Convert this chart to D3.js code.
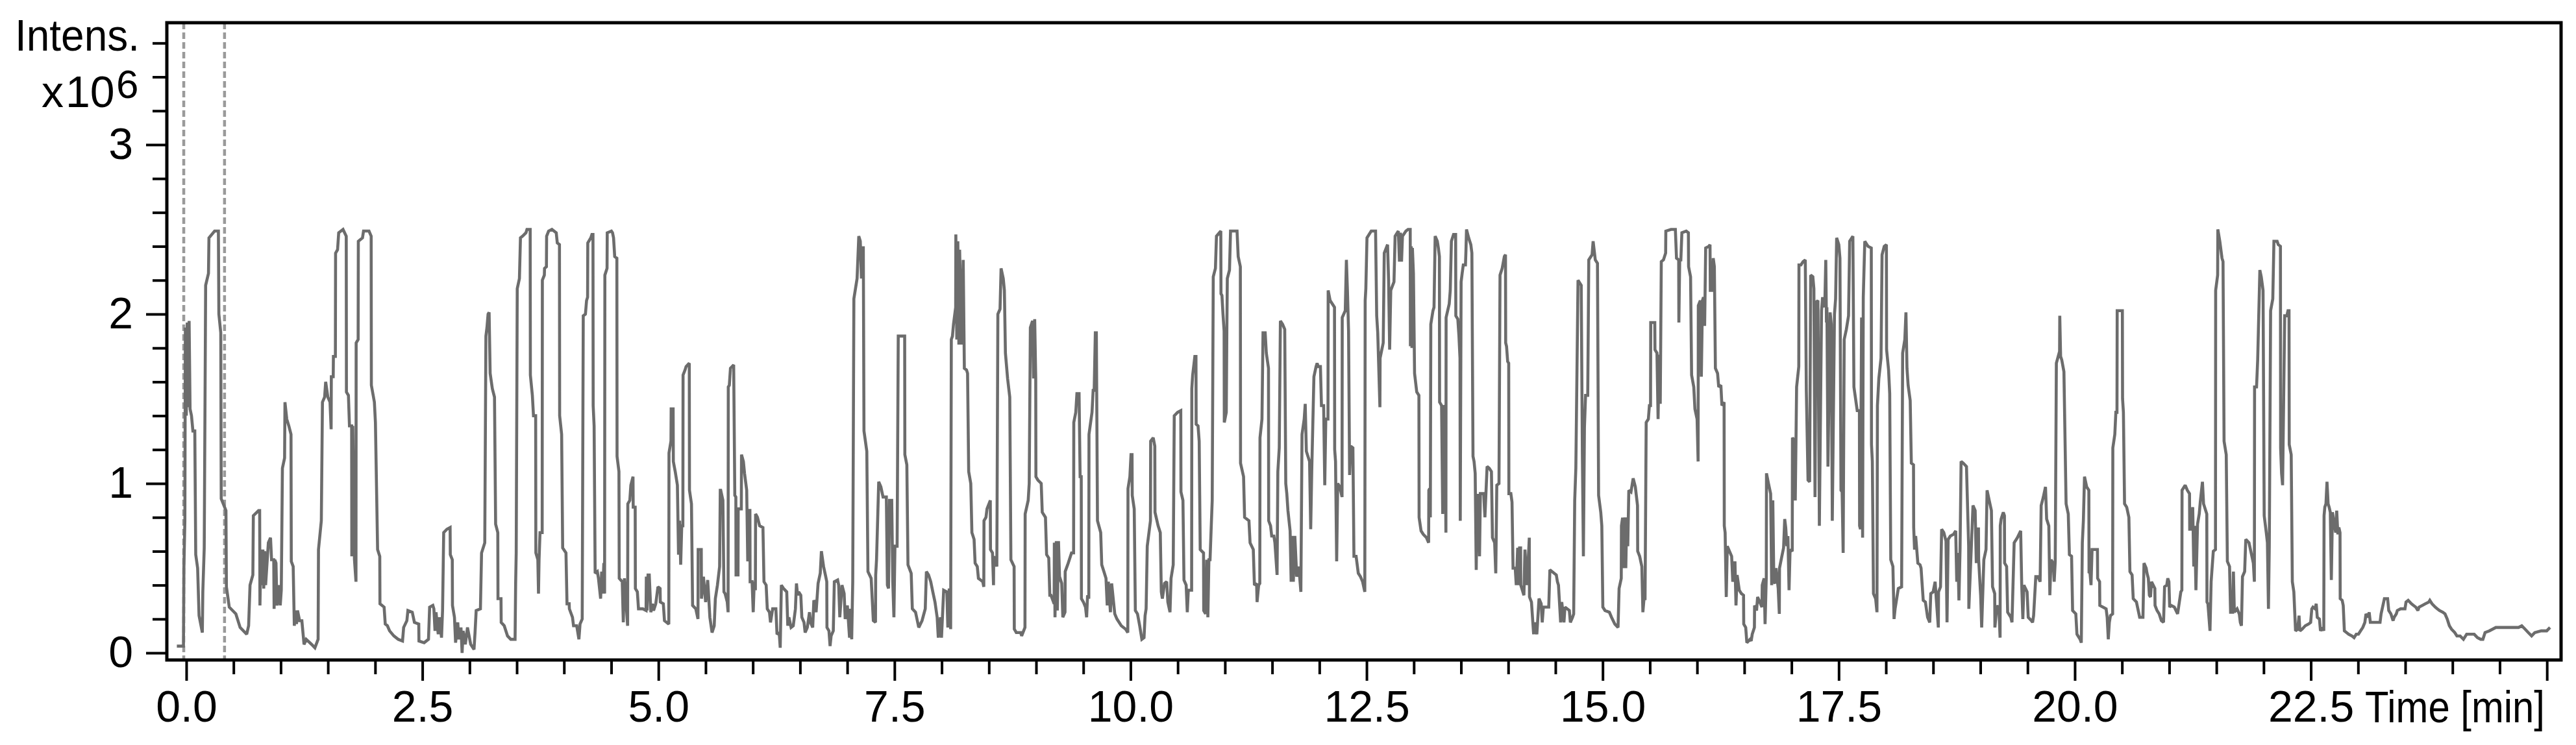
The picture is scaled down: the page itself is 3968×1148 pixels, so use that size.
<!DOCTYPE html>
<html><head><meta charset="utf-8">
<script src="https://cdn.jsdelivr.net/npm/d3@7"></script>
<style>
html,body{margin:0;padding:0;background:#fff;}
svg{display:block;}
text{font-family:"Liberation Sans",Arial,Helvetica,sans-serif;fill:#000;}
</style>
</head><body>
<svg id="chart" width="3968" height="1148"></svg>
<script>
// ---------- DATA ----------
// x axis (time, min)
const xMajorTicks = [0, 2.5, 5, 7.5, 10, 12.5, 15, 17.5, 20, 22.5, 25];
const xTickLabels = ["0.0","2.5","5.0","7.5","10.0","12.5","15.0","17.5","20.0","22.5",""];
const xAxisTitle = "Time [min]";
// y axis (intensity x10^6)
const yMajorTicks = [0, 1, 2, 3];
const yTickLabels = ["0","1","2","3"];
const yAxisTitle = "Intens.";
const yAxisUnitX = "x";
const yAxisUnitBase = "10";
const yAxisExponent = "6";
// dashed marker lines (min)
const markerTimes = [-0.027, 0.405];
// chromatogram trace: [time (min), intensity (x10^6)]
const chromatogram = [
[-0.10,0.04],[-0.03,0.04],[-0.025,0.51],[-0.015,0.78],[-0.01,1.92],[0.0,1.40],[0.01,1.95],[0.02,1.45],[0.03,1.96],[0.04,1.44],[0.055,1.40],[0.07,1.31],[0.09,1.31],[0.10,0.58],[0.12,0.50],[0.135,0.22],[0.17,0.12],[0.175,0.36],[0.19,0.62],[0.205,2.17],[0.235,2.24],[0.24,2.45],[0.30,2.49],[0.34,2.49],[0.345,2.0],[0.365,1.89],[0.37,0.91],[0.42,0.84],[0.425,0.39],[0.455,0.27],[0.525,0.23],[0.57,0.15],[0.64,0.11],[0.66,0.16],[0.675,0.40],[0.705,0.46],[0.71,0.81],[0.765,0.84],
[0.777,0.84],[0.78,0.28],[0.79,0.61],[0.80,0.40],[0.811,0.61],[0.82,0.38],[0.83,0.60],[0.84,0.40],[0.869,0.65],[0.892,0.68],[0.903,0.55],[0.926,0.55],[0.93,0.26],[0.937,0.55],[0.95,0.53],[0.96,0.28],[0.983,0.40],[0.995,0.28],[1.006,0.37],[1.018,1.09],[1.041,1.15],[1.045,1.48],[1.064,1.38],[1.086,1.34],[1.109,1.29],[1.112,0.54],[1.132,0.51],[1.144,0.16],[1.155,0.25],[1.167,0.17],[1.178,0.25],[1.20,0.19],[1.224,0.19],[1.247,0.05],[1.270,0.08],[1.327,0.05],[1.362,0.03],[1.396,0.08],[1.400,0.61],[1.430,0.78],[1.442,1.48],[1.465,1.51],[1.476,1.60],[1.499,1.51],[1.522,1.48],[1.534,1.32],[1.536,1.63],[1.556,1.63],[1.558,1.75],[1.579,1.75],[1.581,2.36],[1.602,2.38],[1.614,2.48],[1.660,2.50],[1.694,2.46],[1.696,1.54],[1.717,1.52],[1.728,1.34],[1.751,1.34],[1.753,0.57],[1.763,1.34],[1.781,0.55],[1.797,0.42],[1.799,1.83],[1.820,1.85],[1.822,2.43],[1.866,2.45],[1.877,2.49],[1.935,2.49],[1.958,2.46],[1.960,1.58],[1.992,1.48],[2.003,1.36],[2.026,0.61],[2.049,0.57],[2.051,0.29],[2.095,0.27],[2.107,0.17],[2.130,0.16],[2.153,0.13],[2.198,0.10],[2.244,0.08],[2.290,0.07],[2.302,0.15],[2.336,0.19],[2.347,0.25],[2.393,0.24],[2.416,0.18],[2.462,0.17],[2.464,0.07],[2.519,0.06],[2.565,0.08],[2.577,0.27],[2.611,0.28],[2.622,0.26],[2.634,0.13],[2.645,0.24],[2.668,0.11],[2.680,0.21],[2.703,0.09],[2.714,0.25],[2.726,0.71],[2.760,0.73],[2.794,0.74],[2.796,0.58],[2.817,0.55],[2.819,0.28],[2.840,0.21],[2.852,0.06],[2.875,0.18],[2.886,0.08],[2.909,0.15],[2.921,0.0],[2.932,0.13],[2.955,0.05],[2.978,0.15],[3.012,0.05],[3.047,0.02],[3.058,0.12],[3.070,0.25],[3.115,0.26],[3.127,0.59],[3.161,0.65],[3.173,1.87],[3.184,1.92],[3.196,2.00],[3.207,2.01],
[3.218,1.65],[3.241,1.56],[3.264,1.51],[3.276,0.76],[3.299,0.71],[3.301,0.32],[3.333,0.32],[3.335,0.18],[3.367,0.16],[3.402,0.10],[3.436,0.08],[3.482,0.08],[3.488,0.41],[3.494,0.59],[3.505,2.15],[3.528,2.21],[3.539,2.45],[3.562,2.46],[3.597,2.48],[3.608,2.50],[3.642,2.50],[3.644,1.64],[3.665,1.52],[3.677,1.40],[3.700,1.40],[3.702,0.59],[3.723,0.55],[3.730,0.35],[3.736,0.55],[3.746,0.71],[3.769,0.71],[3.771,2.20],[3.792,2.23],[3.794,2.27],[3.814,2.28],[3.816,2.46],[3.837,2.49],[3.872,2.50],[3.918,2.48],[3.929,2.42],[3.952,2.41],[3.954,1.40],[3.975,1.29],[3.986,0.62],[4.021,0.59],[4.032,0.29],[4.055,0.29],[4.057,0.26],[4.090,0.21],[4.101,0.16],[4.135,0.16],[4.158,0.08],[4.170,0.17],[4.193,0.20],[4.204,1.99],[4.227,2.00],[4.239,2.08],[4.250,2.10],[4.252,2.42],[4.284,2.45],[4.296,2.47],[4.307,2.47],[4.309,1.46],[4.319,1.34],[4.330,0.47],[4.353,0.48],[4.365,0.44],[4.388,0.32],[4.399,0.48],[4.41,0.35],[4.422,0.53],[4.43,0.35],[4.433,2.23],[4.456,2.27],[4.458,2.48],[4.502,2.49],[4.514,2.48],[4.525,2.45],[4.537,2.34],[4.560,2.33],[4.562,1.16],[4.582,1.07],[4.585,0.44],[4.617,0.42],[4.628,0.18],[4.640,0.44],[4.674,0.16],[4.676,0.88],[4.697,0.90],[4.708,0.99],[4.731,1.04],[4.733,0.86],[4.754,0.86],[4.756,0.38],[4.777,0.36],[4.789,0.26],[4.812,0.26],[4.835,0.26],[4.869,0.25],[4.872,0.45],[4.88,0.25],[4.89,0.46],[4.903,0.46],[4.92,0.24],[4.938,0.29],[4.949,0.25],[4.972,0.29],[4.995,0.39],[5.018,0.38],[5.020,0.30],[5.052,0.29],[5.064,0.19],[5.110,0.17],[5.112,1.18],[5.133,1.25],[5.135,1.44],[5.156,1.44],[5.158,1.13],[5.178,1.07],[5.201,0.99],[5.213,0.58],[5.224,0.78],[5.236,0.52],[5.247,0.75],[5.259,0.75],[5.261,1.64],[5.282,1.67],[5.293,1.69],[5.327,1.71],[5.329,0.96],[5.350,0.88],[5.362,0.28],[5.396,0.26],[5.419,0.20],[5.421,0.61],[5.454,0.61],[5.456,0.32],[5.477,0.45],[5.500,0.30],[5.522,0.43],[5.545,0.21],[5.568,0.12],[5.591,0.16],[5.603,0.32],[5.625,0.40],[5.648,0.51],[5.655,0.96],
[5.660,0.96],[5.683,0.90],[5.694,0.36],[5.706,0.35],[5.729,0.30],[5.738,0.24],[5.740,1.57],[5.751,1.58],[5.763,1.68],[5.797,1.70],[5.809,0.93],[5.820,0.92],[5.822,0.46],[5.843,0.46],[5.845,0.85],[5.878,0.85],[5.880,1.17],[5.900,1.13],[5.912,1.06],[5.935,0.96],[5.946,0.54],[5.958,0.73],[5.969,0.85],[5.971,0.42],[5.992,0.42],[6.004,0.24],[6.015,0.42],[6.027,0.37],[6.029,0.82],[6.049,0.80],[6.072,0.75],[6.107,0.74],[6.118,0.42],[6.141,0.40],[6.153,0.26],[6.176,0.24],[6.187,0.18],[6.210,0.26],[6.244,0.26],[6.256,0.11],[6.279,0.12],[6.290,0.03],[6.302,0.40],[6.325,0.38],[6.359,0.36],[6.370,0.16],[6.382,0.21],[6.405,0.15],[6.428,0.16],[6.451,0.26],[6.462,0.41],[6.474,0.34],[6.485,0.36],[6.508,0.34],[6.519,0.21],[6.542,0.18],[6.554,0.12],[6.577,0.15],[6.600,0.24],[6.611,0.18],[6.634,0.15],[6.646,0.31],[6.657,0.30],[6.67,0.24],[6.691,0.41],[6.714,0.47],[6.726,0.60],[6.749,0.51],[6.772,0.45],[6.783,0.42],[6.785,0.15],[6.806,0.13],[6.818,0.04],[6.829,0.10],[6.852,0.13],[6.863,0.42],[6.898,0.43],[6.909,0.40],[6.921,0.21],[6.944,0.40],[6.967,0.35],[6.978,0.20],[7.001,0.28],[7.024,0.09],[7.035,0.26],[7.047,0.08],[7.058,0.42],[7.070,2.09],[7.104,2.21],[7.122,2.46],[7.138,2.43],[7.150,2.21],[7.17,2.40],[7.177,1.31],[7.207,1.19],[7.219,0.48],[7.253,0.44],[7.276,0.19],[7.299,0.18],[7.301,0.46],[7.310,0.55],[7.333,1.01],[7.356,0.98],[7.379,0.92],[7.414,0.92],[7.425,0.40],[7.437,0.38],[7.448,0.90],[7.471,0.90],[7.482,0.42],[7.494,0.21],[7.505,0.63],[7.528,0.63],[7.540,1.87],[7.608,1.87],[7.610,1.17],[7.631,1.11],[7.643,0.52],[7.677,0.47],[7.689,0.26],[7.723,0.24],[7.757,0.15],[7.792,0.19],[7.826,0.26],[7.838,0.48],[7.861,0.46],[7.884,0.42],[7.906,0.36],[7.929,0.30],[7.952,0.21],[7.964,0.09],[7.987,0.21],[7.998,0.09],[8.021,0.37],[8.055,0.36],
[8.065,0.15],[8.08,0.38],[8.095,0.14],[8.102,1.85],[8.114,1.87],[8.125,1.94],[8.148,2.04],[8.150,2.47],[8.16,1.85],[8.171,2.43],[8.182,1.82],[8.19,2.38],[8.21,1.82],[8.228,2.32],[8.240,1.68],[8.263,1.67],[8.274,1.65],[8.286,1.07],[8.308,1.00],[8.320,0.71],[8.343,0.67],[8.354,0.53],[8.377,0.51],[8.389,0.44],[8.412,0.43],[8.435,0.42],[8.446,0.39],[8.448,0.78],[8.469,0.80],[8.480,0.85],[8.515,0.90],[8.517,0.61],[8.538,0.59],[8.549,0.40],[8.551,0.57],[8.584,0.51],[8.595,2.00],[8.618,2.03],[8.629,2.27],[8.652,2.21],[8.664,2.14],[8.675,1.77],[8.698,1.62],[8.721,1.51],[8.733,0.55],[8.767,0.51],[8.769,0.14],[8.790,0.12],[8.836,0.12],[8.847,0.10],[8.882,0.15],[8.884,0.82],[8.916,0.90],[8.927,1.00],[8.939,1.92],[8.962,1.96],[8.973,1.62],[8.985,1.97],[8.996,1.62],[8.998,1.04],[9.019,1.02],[9.054,1.00],[9.065,0.83],[9.099,0.80],[9.111,0.58],[9.134,0.56],[9.145,0.34],[9.157,0.34],[9.191,0.29],[9.193,0.65],[9.20,0.21],[9.214,0.66],[9.225,0.25],[9.237,0.66],[9.248,0.45],[9.271,0.41],[9.283,0.21],[9.306,0.24],[9.308,0.48],[9.340,0.53],[9.375,0.59],[9.397,0.59],[9.399,1.36],[9.420,1.42],[9.432,1.53],[9.455,1.53],[9.466,1.04],[9.478,1.04],[9.480,0.32],[9.501,0.30],[9.523,0.27],[9.535,0.21],[9.545,0.34],[9.558,0.32],[9.560,1.29],[9.592,1.42],[9.604,1.55],[9.615,1.55],[9.627,1.89],[9.638,1.89],[9.650,0.78],[9.684,0.71],[9.695,0.52],[9.718,0.48],[9.740,0.44],[9.753,0.28],[9.765,0.42],[9.787,0.24],[9.80,0.41],[9.833,0.23],[9.856,0.20],[9.902,0.16],[9.948,0.14],[9.971,0.12],[9.973,0.97],[9.993,1.04],[10.005,1.17],[10.016,1.17],[10.018,0.93],[10.039,0.85],[10.051,0.25],[10.074,0.23],[10.097,0.16],[10.120,0.08],[10.143,0.09],[10.154,0.22],[10.165,0.26],[10.177,0.63],[10.211,0.78],[10.213,1.25],[10.240,1.27],[10.257,1.22],[10.259,0.83],[10.292,0.75],[10.315,0.71],[10.326,0.36],[10.337,0.32],[10.360,0.41],[10.383,0.42],[10.395,0.30],[10.418,0.24],
[10.429,0.44],[10.452,0.52],[10.463,1.40],[10.498,1.42],[10.532,1.43],[10.534,0.95],[10.555,0.90],[10.566,0.43],[10.589,0.40],[10.601,0.24],[10.612,0.37],[10.647,0.37],[10.649,1.56],[10.658,1.64],[10.681,1.75],[10.693,1.75],[10.695,1.35],[10.715,1.34],[10.727,1.25],[10.738,0.61],[10.773,0.59],[10.775,0.25],[10.795,0.23],[10.807,0.55],[10.819,0.21],[10.830,0.55],[10.842,0.55],[10.853,0.72],[10.865,0.90],[10.876,2.22],[10.899,2.27],[10.910,2.46],[10.956,2.49],[10.958,2.12],[10.968,2.11],[10.979,2.00],[10.991,1.90],[10.993,1.36],[11.014,1.42],[11.020,1.90],[11.025,2.21],[11.048,2.26],[11.059,2.49],[11.128,2.49],[11.140,2.34],[11.163,2.28],[11.165,1.12],[11.197,1.04],[11.208,0.80],[11.254,0.78],[11.266,0.65],[11.300,0.61],[11.312,0.40],[11.335,0.41],[11.340,0.30],[11.357,0.40],[11.369,0.41],[11.371,1.27],[11.392,1.38],[11.403,1.89],[11.426,1.89],[11.438,1.77],[11.461,1.68],[11.463,0.78],[11.483,0.75],[11.495,0.69],[11.518,0.69],[11.529,0.65],[11.552,0.46],[11.560,1.07],[11.575,1.21],[11.587,1.96],[11.610,1.94],[11.633,1.91],[11.644,1.00],[11.655,0.94],[11.667,0.84],[11.690,0.72],[11.701,0.42],[11.712,0.69],[11.724,0.42],[11.740,0.69],[11.760,0.45],[11.782,0.51],[11.804,0.36],[11.816,1.29],[11.839,1.38],[11.850,1.47],[11.862,1.19],[11.896,1.13],[11.908,0.73],[11.919,1.07],[11.942,1.63],[11.965,1.69],[11.976,1.71],[11.988,1.69],[12.011,1.69],[12.022,1.46],[12.045,1.46],[12.057,0.99],[12.068,1.38],[12.091,1.38],[12.093,2.14],[12.114,2.08],[12.160,2.04],[12.162,1.20],[12.171,1.13],[12.183,0.54],[12.194,1.00],[12.217,0.98],[12.240,0.92],[12.242,1.98],[12.274,2.02],[12.286,2.32],[12.297,2.14],[12.309,1.90],[12.320,1.05],[12.332,1.22],[12.355,1.21],[12.366,0.57],[12.389,0.57],[12.412,0.47],[12.435,0.45],[12.458,0.42],[12.481,0.36],[12.485,2.08],[12.492,2.15],[12.504,2.45],[12.549,2.49],[12.595,2.49],[12.607,1.99],[12.618,1.89],[12.641,1.45],[12.643,1.74],[12.676,1.83],[12.687,2.36],[12.722,2.41],[12.733,2.20],[12.744,1.79],[12.756,2.14],[12.790,2.19],[12.802,2.46],[12.836,2.49],[12.848,2.31],
[12.859,2.48],[12.870,2.31],[12.880,2.46],[12.893,2.47],[12.916,2.49],[12.939,2.50],[12.962,2.50],[12.964,1.81],[12.973,2.40],[12.980,1.80],[12.985,2.39],[12.996,2.24],[13.008,1.65],[13.031,1.54],[13.054,1.52],[13.056,0.80],[13.077,0.72],[13.100,0.70],[13.134,0.68],[13.157,0.65],[13.159,0.96],[13.168,0.97],[13.175,0.80],[13.180,1.94],[13.203,2.02],[13.214,2.04],[13.226,2.46],[13.249,2.43],[13.260,2.39],[13.271,2.34],[13.273,1.48],[13.294,1.46],[13.306,0.82],[13.310,1.46],[13.329,1.44],[13.340,0.71],[13.342,1.98],[13.375,2.06],[13.386,2.14],[13.398,2.43],[13.421,2.47],[13.443,2.47],[13.445,1.99],[13.466,1.97],[13.478,1.87],[13.489,1.74],[13.492,0.78],[13.501,2.19],[13.512,2.24],[13.524,2.29],[13.547,2.29],[13.552,2.37],[13.558,2.50],[13.581,2.45],[13.604,2.41],[13.615,2.36],[13.627,1.16],[13.638,1.13],[13.650,1.06],[13.661,0.49],[13.670,0.93],[13.684,0.93],[13.696,0.57],[13.705,0.94],[13.719,0.94],[13.740,0.94],[13.753,0.80],[13.776,1.10],[13.799,1.09],[13.822,1.07],[13.833,0.68],[13.856,0.65],[13.868,0.47],[13.879,0.99],[13.902,1.00],[13.913,2.23],[13.936,2.27],[13.959,2.34],[13.971,2.35],[13.973,1.83],[13.982,1.81],[13.994,1.72],[14.005,1.71],[14.007,0.94],[14.028,0.94],[14.040,0.89],[14.051,0.50],[14.074,0.50],[14.085,0.40],[14.10,0.62],[14.108,0.40],[14.120,0.62],[14.131,0.62],[14.133,0.40],[14.166,0.34],[14.177,0.61],[14.200,0.40],[14.223,0.68],[14.225,0.33],[14.246,0.30],[14.269,0.11],[14.280,0.18],[14.303,0.11],[14.326,0.32],[14.349,0.29],[14.360,0.18],[14.372,0.27],[14.429,0.27],[14.441,0.49],[14.464,0.48],[14.509,0.46],[14.521,0.42],[14.532,0.40],[14.555,0.18],[14.567,0.30],[14.590,0.18],[14.601,0.27],[14.647,0.25],[14.658,0.18],[14.681,0.21],[14.693,0.23],[14.704,0.90],[14.716,1.09],[14.739,2.20],[14.773,2.17],[14.785,1.18],[14.796,0.57],[14.807,1.33],[14.819,1.52],[14.842,1.52],[14.853,2.32],[14.888,2.35],[14.899,2.43],[14.922,2.32],[14.945,2.30],[14.957,0.93],[14.980,0.83],[14.991,0.75],[15.002,0.27],[15.025,0.25],[15.071,0.24],[15.094,0.21],[15.129,0.17],[15.163,0.15],[15.174,0.38],[15.197,0.44],[15.199,0.75],[15.209,0.79],[15.220,0.79],
[15.225,0.50],[15.235,0.80],[15.245,0.50],[15.255,0.80],[15.266,0.63],[15.277,0.96],[15.300,0.95],[15.323,1.03],[15.346,0.98],[15.369,0.87],[15.371,0.60],[15.392,0.57],[15.415,0.51],[15.426,0.24],[15.438,0.32],[15.449,0.32],[15.461,1.36],[15.484,1.38],[15.495,1.46],[15.507,1.46],[15.509,1.95],[15.552,1.95],[15.554,1.79],[15.575,1.77],[15.587,1.38],[15.598,1.76],[15.610,1.47],[15.621,2.31],[15.644,2.32],[15.667,2.36],[15.669,2.49],[15.724,2.50],[15.770,2.50],[15.782,2.33],[15.805,2.32],[15.807,1.95],[15.816,2.32],[15.828,2.32],[15.839,2.48],[15.885,2.49],[15.908,2.48],[15.910,2.28],[15.931,2.22],[15.942,1.64],[15.965,1.57],[15.977,1.44],[16.000,1.38],[16.011,1.13],[16.013,2.05],[16.034,2.08],[16.045,1.63],[16.057,2.08],[16.068,2.10],[16.080,1.93],[16.091,2.39],[16.126,2.40],[16.137,2.41],[16.140,2.14],[16.160,2.14],[16.171,2.33],[16.183,2.28],[16.194,1.68],[16.217,1.65],[16.229,1.57],[16.252,1.58],[16.263,1.46],[16.286,1.48],[16.288,0.75],[16.297,0.71],[16.309,0.33],[16.320,0.63],[16.343,0.60],[16.366,0.57],[16.378,0.42],[16.401,0.54],[16.412,0.28],[16.424,0.46],[16.447,0.37],[16.469,0.35],[16.492,0.34],[16.494,0.17],[16.515,0.15],[16.527,0.06],[16.561,0.08],[16.573,0.07],[16.584,0.11],[16.607,0.15],[16.609,0.28],[16.630,0.25],[16.641,0.33],[16.664,0.30],[16.687,0.27],[16.690,0.40],[16.710,0.44],[16.720,0.17],[16.733,0.45],[16.735,1.06],[16.756,1.00],[16.779,0.94],[16.790,0.40],[16.802,0.90],[16.813,0.42],[16.825,0.41],[16.836,0.50],[16.859,0.38],[16.871,0.23],[16.873,0.50],[16.894,0.56],[16.916,0.62],[16.928,0.79],[16.939,0.74],[16.951,0.63],[16.962,0.69],[16.974,0.37],[16.985,0.61],[17.008,0.60],[17.010,1.27],[17.031,1.25],[17.040,0.90],[17.054,1.57],[17.077,1.69],[17.079,2.29],[17.100,2.29],[17.123,2.31],[17.146,2.32],[17.157,1.55],[17.175,1.02],[17.192,1.01],[17.203,2.23],[17.226,2.22],[17.237,2.15],[17.249,0.92],[17.260,2.07],[17.280,2.08],[17.295,0.75],[17.318,2.02],[17.329,2.10],[17.352,2.04],[17.363,2.32],[17.370,1.95],[17.375,2.04],[17.386,1.10],[17.409,2.01],[17.421,1.94],[17.432,0.78],[17.455,2.00],[17.467,2.09],[17.478,2.45],[17.501,2.41],[17.513,2.33],[17.524,0.96],[17.536,0.95],[17.547,0.59],[17.558,1.85],[17.581,1.91],[17.604,1.99],[17.616,2.43],[17.650,2.46],[17.661,1.57],
[17.696,1.43],[17.719,1.43],[17.721,0.75],[17.730,0.73],[17.742,1.98],[17.753,0.68],[17.760,2.10],[17.776,2.43],[17.810,2.40],[17.845,2.39],[17.847,1.23],[17.856,1.13],[17.868,0.35],[17.891,0.32],[17.905,0.24],[17.910,1.46],[17.925,1.62],[17.948,1.74],[17.959,2.35],[17.982,2.40],[18.005,2.41],[18.007,1.79],[18.028,1.67],[18.040,1.53],[18.051,0.55],[18.074,0.51],[18.086,0.20],[18.097,0.26],[18.131,0.38],[18.166,0.39],[18.177,1.77],[18.200,1.85],[18.212,2.01],[18.223,1.68],[18.235,1.58],[18.257,1.49],[18.269,1.12],[18.292,1.11],[18.294,0.74],[18.303,0.61],[18.315,0.69],[18.338,0.53],[18.361,0.52],[18.372,0.50],[18.395,0.31],[18.418,0.30],[18.441,0.21],[18.464,0.18],[18.475,0.35],[18.500,0.36],[18.521,0.42],[18.533,0.32],[18.555,0.15],[18.557,0.36],[18.578,0.39],[18.590,0.73],[18.613,0.71],[18.636,0.66],[18.647,0.18],[18.659,0.67],[18.682,0.69],[18.716,0.70],[18.739,0.72],[18.750,0.42],[18.762,0.59],[18.773,0.31],[18.785,0.61],[18.796,1.13],[18.819,1.12],[18.853,1.10],[18.876,0.63],[18.878,0.26],[18.899,0.55],[18.922,0.87],[18.945,0.84],[18.957,0.53],[18.980,0.74],[18.982,0.55],[19.003,0.34],[19.014,0.15],[19.037,0.55],[19.060,0.61],[19.071,0.96],[19.094,0.90],[19.117,0.84],[19.129,0.39],[19.152,0.35],[19.154,0.15],[19.175,0.28],[19.197,0.25],[19.209,0.09],[19.211,0.75],[19.220,0.79],[19.243,0.83],[19.255,0.81],[19.257,0.53],[19.278,0.51],[19.289,0.24],[19.323,0.21],[19.335,0.18],[19.358,0.65],[19.392,0.68],[19.427,0.72],[19.438,0.40],[19.450,0.20],[19.461,0.40],[19.495,0.36],[19.507,0.21],[19.541,0.19],[19.553,0.18],[19.564,0.22],[19.587,0.45],[19.610,0.45],[19.633,0.42],[19.644,0.87],[19.667,0.92],[19.690,0.98],[19.702,0.79],[19.725,0.75],[19.736,0.34],[19.748,0.55],[19.771,0.53],[19.782,0.42],[19.793,0.54],[19.805,1.71],[19.839,1.78],[19.841,1.99],[19.850,1.75],[19.862,1.73],[19.885,1.66],[19.908,0.88],[19.931,0.82],[19.943,0.58],[19.966,0.57],[19.977,0.25],[20.011,0.23],[20.023,0.11],[20.057,0.08],[20.069,0.06],[20.080,0.65],[20.091,0.78],
[20.103,1.04],[20.126,0.98],[20.149,0.96],[20.151,0.47],[20.160,0.48],[20.172,0.40],[20.183,0.61],[20.240,0.61],[20.242,0.44],[20.263,0.42],[20.265,0.28],[20.298,0.27],[20.332,0.26],[20.343,0.21],[20.355,0.08],[20.366,0.18],[20.378,0.22],[20.401,0.23],[20.403,1.21],[20.424,1.29],[20.435,1.42],[20.447,1.42],[20.449,2.02],[20.504,2.02],[20.506,1.50],[20.515,1.42],[20.527,0.88],[20.550,0.86],[20.573,0.80],[20.584,0.48],[20.607,0.46],[20.619,0.32],[20.653,0.30],[20.687,0.21],[20.722,0.21],[20.733,0.53],[20.756,0.50],[20.765,0.47],[20.779,0.44],[20.790,0.34],[20.802,0.33],[20.813,0.42],[20.848,0.38],[20.850,0.28],[20.871,0.25],[20.894,0.23],[20.917,0.19],[20.940,0.18],[20.951,0.39],[20.974,0.40],[20.985,0.44],[20.997,0.42],[21.005,0.27],[21.020,0.28],[21.054,0.27],[21.089,0.23],[21.123,0.36],[21.134,0.37],[21.136,0.96],[21.169,0.99],[21.192,0.96],[21.215,0.94],[21.217,0.73],[21.226,0.73],[21.249,0.86],[21.260,0.51],[21.270,0.75],[21.283,0.37],[21.300,0.76],[21.318,0.82],[21.329,0.89],[21.352,1.01],[21.364,0.88],[21.398,0.82],[21.400,0.30],[21.410,0.29],[21.432,0.13],[21.444,0.42],[21.467,0.60],[21.490,0.61],[21.492,2.14],[21.513,2.23],[21.515,2.50],[21.536,2.43],[21.559,2.33],[21.570,2.31],[21.581,1.25],[21.604,1.17],[21.616,0.54],[21.639,0.51],[21.650,0.24],[21.673,0.24],[21.680,0.48],[21.690,0.24],[21.719,0.26],[21.742,0.23],[21.753,0.18],[21.765,0.16],[21.776,0.45],[21.799,0.48],[21.811,0.67],[21.845,0.65],[21.868,0.59],[21.891,0.53],[21.902,0.42],[21.904,1.57],[21.925,1.57],[21.937,1.73],[21.960,2.26],[21.975,2.22],[21.994,2.14],[22.006,0.81],[22.028,0.71],[22.040,0.65],[22.051,0.26],[22.060,0.63],[22.074,2.02],[22.097,2.09],[22.109,2.43],[22.143,2.43],[22.155,2.41],[22.178,2.40],[22.180,1.21],[22.190,1.06],[22.201,0.99],[22.223,1.99],[22.246,1.99],[22.258,2.02],[22.269,2.02],[22.271,1.23],[22.292,1.17],[22.304,0.42],[22.320,0.36],[22.338,0.13],[22.361,0.14],[22.375,0.22],[22.384,0.13],[22.407,0.14],[22.441,0.16],[22.476,0.17],[22.498,0.18],[22.510,0.26],
[22.522,0.27],[22.545,0.26],[22.557,0.29],[22.568,0.21],[22.591,0.20],[22.602,0.13],[22.625,0.15],[22.637,0.13],[22.640,0.81],[22.648,0.86],[22.660,0.88],[22.671,1.01],[22.683,0.88],[22.694,0.86],[22.706,0.83],[22.717,0.43],[22.729,0.83],[22.740,0.79],[22.763,0.71],[22.774,0.84],[22.786,0.70],[22.797,0.74],[22.809,0.71],[22.811,0.32],[22.832,0.31],[22.843,0.28],[22.855,0.13],[22.878,0.12],[22.900,0.11],[22.935,0.10],[22.958,0.09],[22.981,0.11],[23.004,0.11],[23.027,0.13],[23.050,0.15],[23.072,0.18],[23.084,0.23],[23.107,0.21],[23.118,0.24],[23.130,0.18],[23.199,0.18],[23.233,0.18],[23.244,0.23],[23.279,0.32],[23.313,0.32],[23.325,0.25],[23.348,0.23],[23.371,0.19],[23.382,0.21],[23.405,0.23],[23.416,0.25],[23.451,0.26],[23.497,0.26],[23.508,0.30],[23.531,0.31],[23.565,0.29],[23.588,0.28],[23.611,0.27],[23.634,0.25],[23.646,0.27],[23.680,0.28],[23.714,0.29],[23.749,0.30],[23.760,0.31],[23.783,0.29],[23.818,0.27],[23.840,0.26],[23.863,0.25],[23.898,0.24],[23.921,0.23],[23.944,0.20],[23.967,0.16],[23.990,0.14],[24.024,0.12],[24.047,0.10],[24.081,0.10],[24.116,0.08],[24.150,0.11],[24.230,0.11],[24.265,0.09],[24.299,0.08],[24.322,0.08],[24.345,0.12],[24.391,0.13],[24.459,0.15],[24.700,0.15],[24.734,0.16],[24.769,0.14],[24.803,0.12],[24.838,0.10],[24.872,0.12],[24.941,0.13],[24.998,0.13],[25.033,0.15]
];

// ---------- LAYOUT ----------
const W = 3968, H = 1148;
const plot = {left: 257, right: 3945, top: 35, bottom: 1017};
const FONT = 68;

const svg = d3.select("#chart");
svg.append("rect").attr("width", W).attr("height", H).attr("fill", "#fff");

const x = d3.scaleLinear().domain([-0.206, 25.15]).range([plot.left, plot.right]);
const y = d3.scaleLinear().domain([-0.042, 3.720]).range([plot.bottom, plot.top]);

// minor tick positions
const xMinorTicks = d3.range(0, 25.001, 0.5).filter(v => !xMajorTicks.some(m => Math.abs(m - v) < 1e-6));
const yMinorTicks = d3.range(0.2, 3.7, 0.2).filter(v => !yMajorTicks.some(m => Math.abs(m - v) < 1e-6));

function styleAxis(g) {
  g.select(".domain").remove();
  g.selectAll(".tick line").attr("stroke", "#000").attr("stroke-width", 4);
  g.selectAll(".tick text").attr("font-size", FONT).attr("fill", "#000")
    .attr("font-family", '"Liberation Sans", Arial, sans-serif');
}

// x axis
svg.append("g").attr("transform", `translate(0,${plot.bottom})`)
  .call(d3.axisBottom(x).tickValues(xMinorTicks).tickSize(22).tickFormat(""))
  .call(styleAxis);
svg.append("g").attr("transform", `translate(0,${plot.bottom})`)
  .call(d3.axisBottom(x).tickValues(xMajorTicks).tickSize(32).tickPadding(15)
        .tickFormat((d, i) => xTickLabels[i]))
  .call(styleAxis);

// y axis
svg.append("g").attr("transform", `translate(${plot.left},0)`)
  .call(d3.axisLeft(y).tickValues(yMinorTicks).tickSize(22).tickFormat(""))
  .call(styleAxis);
svg.append("g").attr("transform", `translate(${plot.left},0)`)
  .call(d3.axisLeft(y).tickValues(yMajorTicks).tickSize(32).tickPadding(20)
        .tickFormat((d, i) => yTickLabels[i]))
  .call(styleAxis);

// dashed marker lines
svg.append("g").selectAll("line").data(markerTimes).join("line")
  .attr("x1", d => x(d)).attr("x2", d => x(d))
  .attr("y1", plot.top).attr("y2", plot.bottom)
  .attr("stroke", "#9a9a9a").attr("stroke-width", 4.5)
  .attr("stroke-dasharray", "10,5");

// trace
const line = d3.line().x(d => x(d[0])).y(d => y(d[1]));
svg.append("path").datum(chromatogram)
  .attr("d", line)
  .attr("fill", "none")
  .attr("stroke", "#6c6c6c")
  .attr("stroke-width", 4.6)
  .attr("stroke-linejoin", "miter")
  .attr("stroke-miterlimit", 2);

// frame
svg.append("rect")
  .attr("x", plot.left).attr("y", plot.top)
  .attr("width", plot.right - plot.left).attr("height", plot.bottom - plot.top)
  .attr("fill", "none").attr("stroke", "#000").attr("stroke-width", 5);

// axis titles
svg.append("text").attr("x", 23).attr("y", 78)
  .attr("font-size", FONT).attr("textLength", 192).attr("lengthAdjust", "spacingAndGlyphs")
  .text(yAxisTitle);
svg.append("text").attr("x", 64).attr("y", 165).attr("font-size", FONT).text(yAxisUnitX);
svg.append("text").attr("x", 101).attr("y", 165).attr("font-size", FONT)
  .text(yAxisUnitBase);
svg.append("text").attr("x", 179).attr("y", 151).attr("font-size", 62).text(yAxisExponent);

svg.append("text").attr("x", 3643).attr("y", 1113)
  .attr("font-size", FONT).attr("textLength", 277).attr("lengthAdjust", "spacingAndGlyphs")
  .text(xAxisTitle);
</script>
</body></html>
